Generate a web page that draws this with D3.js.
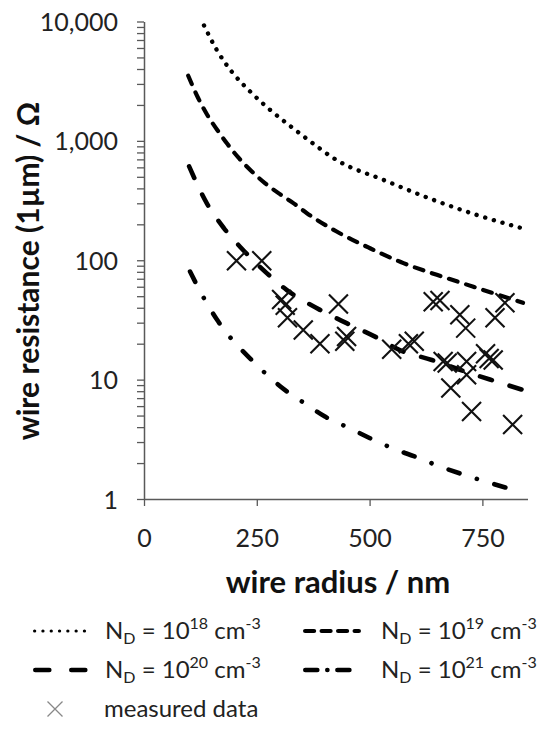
<!DOCTYPE html>
<html>
<head>
<meta charset="utf-8">
<script src="https://cdn.jsdelivr.net/npm/d3@7"></script>
<style>
  html, body { margin: 0; padding: 0; background: #fff; }
  svg { display: block; font-family: Lato, "Open Sans", sans-serif; }
</style>
</head>
<body>
<svg id="chart" width="542" height="735"></svg>
<script>
// Wire resistance of a 1 µm long wire versus wire radius, for four donor
// concentrations N_D, together with measured resistances.

// Model curves: [radius nm, resistance Ω]
const curve18 = [[133, 9270], [161, 5800], [194, 3820], [235, 2595], [279, 1825], [327, 1305],
  [357, 1068], [430, 680], [530, 472], [641, 321], [737, 240], [837, 186]];
const curve19 = [[98, 3515], [120, 2285], [140, 1655], [162, 1240], [185, 940], [209, 726],
  [239, 554], [268, 443], [298, 365], [331, 301], [361, 248], [427, 174], [501, 126],
  [575, 94.6], [649, 75.5], [730, 60], [840, 44]];
const curve20 = [[100, 611], [139, 301], [177, 186], [216, 126], [272, 78], [316, 56.5],
  [390, 38.4], [449, 29.7], [512, 22.9], [567, 17.7], [638, 14.6], [700, 12.1],
  [771, 9.9], [840, 8.2]];
const curve21 = [[102, 80.4], [133, 48], [162, 31.7], [194, 21.9], [231, 15.6], [270, 11.2],
  [312, 8.2], [357, 6.3], [401, 4.9], [453, 3.96], [501, 3.23], [551, 2.66], [604, 2.24],
  [653, 1.89], [704, 1.62], [757, 1.40], [830, 1.16]];

// Measured wires: radius (nm) and resistance (Ω)
const measRadius = [205, 261, 305, 313, 318, 353, 390, 431, 445, 449, 549, 586, 599,
  641, 656, 663, 672, 680, 700, 713, 715, 715, 726, 757, 765, 774, 778, 800, 817];
const measResistance = [99, 99, 47, 42, 33, 26, 20, 43, 21, 23, 18, 20, 21,
  45, 46, 14.2, 13.8, 8.5, 35, 27, 14.2, 11, 5.4, 16.5, 15, 14.6, 33, 44, 4.2];

const xTicks = [0, 250, 500, 750];
const yMajorTicks = [1, 10, 100, 1000, 10000];
const seriesExponents = ["18", "19", "20", "21"];

const svg = d3.select("#chart");
const axisColor = "#595959";
const textColor = "#222";

const x = d3.scaleLinear().domain([0, 850]).range([144, 527.5]);
const y = d3.scaleLog().domain([1, 10000]).range([499, 21.5]);

// minor ticks 2..9 in every decade
const yMinorTicks = [];
for (let d = 1; d < 10000; d *= 10) for (let k = 2; k <= 9; k++) yMinorTicks.push(d * k);

// y axis: minor ticks, then major ticks with labels
const yMinor = svg.append("g").attr("transform", `translate(${x(0)},0)`)
  .call(d3.axisLeft(y).tickValues(yMinorTicks).tickSize(7).tickFormat(""));
yMinor.select(".domain").remove();
yMinor.selectAll("line").attr("stroke", axisColor).attr("stroke-width", 1.3);

const yAxis = svg.append("g").attr("transform", `translate(${x(0)},0)`)
  .call(d3.axisLeft(y).tickValues(yMajorTicks).tickSize(7).tickSizeOuter(0)
    .tickFormat(d3.format(",")));
yAxis.select(".domain").attr("stroke", axisColor).attr("stroke-width", 1.5);
yAxis.selectAll("line").attr("stroke", axisColor).attr("stroke-width", 1.3);
yAxis.selectAll("text").attr("x", -26).attr("dy", "0.36em")
  .attr("font-size", 25).attr("font-family", "Lato, sans-serif").attr("fill", textColor);

const xAxis = svg.append("g").attr("transform", `translate(0,${y(1)})`)
  .call(d3.axisBottom(x).tickValues(xTicks).tickSize(7).tickSizeOuter(0));
xAxis.select(".domain").attr("stroke", axisColor).attr("stroke-width", 1.5);
xAxis.selectAll("line").attr("stroke", axisColor).attr("stroke-width", 1.3);
xAxis.selectAll("text").attr("y", 0).attr("dy", "48px")
  .attr("font-size", 25).attr("font-family", "Lato, sans-serif").attr("fill", textColor);

// axis titles
svg.append("text").attr("x", 338).attr("y", 593).attr("text-anchor", "middle")
  .attr("font-size", 31).attr("font-weight", "bold").attr("fill", "#111")
  .text("wire radius / nm");
svg.append("text").attr("transform", "translate(39,271) rotate(-90)")
  .attr("text-anchor", "middle").attr("font-size", 30).attr("font-weight", "bold")
  .attr("fill", "#111").text("wire resistance (1µm) / Ω");

// line styles for the four concentrations
const styles = [
  { data: curve18, width: 4.4, dash: "0.1,8.9" },
  { data: curve19, width: 4.2, dash: "9,9" },
  { data: curve20, width: 4.6, dash: "12.5,18.5" },
  { data: curve21, width: 4.6, dash: "11.5,18.2,0.1,18.2" }
];

const line = d3.line().x(d => x(d[0])).y(d => y(d[1])).curve(d3.curveMonotoneX);

svg.append("g").selectAll("path").data(styles).join("path")
  .attr("d", s => line(s.data))
  .attr("fill", "none").attr("stroke", "#000")
  .attr("stroke-width", s => s.width)
  .attr("stroke-dasharray", s => s.dash)
  .attr("stroke-linecap", "round");

// measured data crosses
const cross = "M-9.5,-9.5L9.5,9.5M-9.5,9.5L9.5,-9.5";
svg.append("g").selectAll("path").data(measRadius).join("path")
  .attr("transform", (r, i) => `translate(${x(r)},${y(measResistance[i])})`)
  .attr("d", cross).attr("fill", "none").attr("stroke", "#111").attr("stroke-width", 2.1);

// legend
const legendPos = [
  { x1: 33, x2: 90, tx: 105, cy: 631 },
  { x1: 303, x2: 361, tx: 381, cy: 631 },
  { x1: 33, x2: 90, tx: 105, cy: 670 },
  { x1: 303, x2: 361, tx: 381, cy: 670 }
];
const legendStyles = [
  { width: 3.2, dash: "0.1,8.2" },
  { width: 4.2, dash: "9,7.5" },
  { width: 4.6, dash: "14,22" },
  { width: 4.6, dash: "12,10,0.1,10" }
];

const lg = svg.append("g").attr("font-size", 24).attr("fill", textColor);
legendPos.forEach((p, i) => {
  const s = legendStyles[i];
  lg.append("line").attr("x1", p.x1 + s.width / 2).attr("x2", p.x2 - s.width / 2)
    .attr("y1", p.cy).attr("y2", p.cy)
    .attr("stroke", "#000").attr("stroke-width", s.width)
    .attr("stroke-dasharray", s.dash).attr("stroke-linecap", "round");
  const t = lg.append("text").attr("x", p.tx).attr("y", p.cy + 8);
  t.append("tspan").text("N");
  t.append("tspan").attr("font-size", 16).attr("dy", 5).text("D");
  t.append("tspan").attr("dy", -5).text(" = 10");
  t.append("tspan").attr("font-size", 16).attr("dy", -10).text(seriesExponents[i]);
  t.append("tspan").attr("dy", 10).text(" cm");
  t.append("tspan").attr("font-size", 16).attr("dy", -10).text("-3");
});

lg.append("path").attr("transform", "translate(55,709)")
  .attr("d", "M-7.5,-7.5L7.5,7.5M-7.5,7.5L7.5,-7.5").attr("stroke", "#888").attr("stroke-width", 1.3);
lg.append("text").attr("x", 104).attr("y", 717).text("measured data");
</script>
</body>
</html>
